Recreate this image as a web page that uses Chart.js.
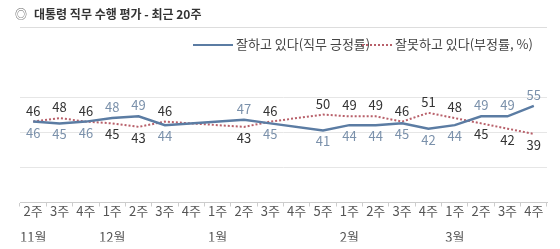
<!DOCTYPE html>
<html>
<head>
<meta charset="utf-8">
<script src="https://cdn.jsdelivr.net/npm/chart.js@4"></script>
<style>
    body { margin: 0; background: #fff; font-family: "Noto Sans CJK KR", sans-serif; }
    #wrap { position: relative; width: 560px; height: 249px; overflow: hidden; }
    #chart { position: absolute; left: 0; top: 0; }
    .title { position: absolute; left: 15px; top: 5px; font-size: 12px; font-weight: bold; color: #333; white-space: nowrap; }
    .title .mark { font-weight: normal; color: #666; margin-right: 7px; }
    .rule { position: absolute; left: 20px; top: 27px; width: 527px; height: 1px; background: #ddd; }
    .legend { position: absolute; top: 35px; font-size: 13px; color: #444; white-space: nowrap; line-height: 18px; }
    .legend .swatch { display: inline-block; vertical-align: middle; width: 40px; margin-right: 3px; }
    .legend .solid { border-top: 2px solid #5b7ca3; }
    .legend .dots { width: 30px; border-top: 2px dotted #b8606a; }
</style>
</head>
<body>
<div id="wrap">
    <canvas id="chart" width="560" height="270"></canvas>
    <div class="title"><span class="mark">◎</span>대통령 직무 수행 평가 - 최근 20주</div>
    <div class="rule"></div>
    <div class="legend" style="left:193px"><span class="swatch solid"></span>잘하고 있다(직무 긍정률)</div>
    <div class="legend" style="left:362px"><span class="swatch dots"></span>잘못하고 있다(부정률, %)</div>
</div>
<script>
// weekly survey results, gaps = no survey that week
const weeks = ['2주', '3주', '4주', '1주', '2주', '3주', '4주', '1주', '2주', '3주', '4주', '5주', '1주', '2주', '3주', '4주', '1주', '2주', '3주', '4주'];
const months = ['11월', '', '', '12월', '', '', '', '1월', '', '', '', '', '2월', '', '', '', '3월', '', '', ''];
const positive = [46, 45, 46, 48, 49, 44, null, null, 47, 45, null, 41, 44, 44, 45, 42, 44, 49, 49, 55];
const negative = [46, 48, 46, 45, 43, 46, null, null, 43, 46, null, 50, 49, 49, 46, 51, 48, 45, 42, 39];
const yTicks = [0, 20, 40, 60];

const labels = weeks.map((w, i) => months[i] ? [w, months[i]] : w);

// value labels: the higher series gets its number above the line
const valueLabels = {
    id: 'valueLabels',
    afterDatasetsDraw(chart) {
        const ctx = chart.ctx;
        const posPts = chart.getDatasetMeta(0).data;
        const negPts = chart.getDatasetMeta(1).data;
        ctx.save();
        ctx.font = '13px "Noto Sans CJK KR", sans-serif';
        ctx.textAlign = 'center';
        ctx.textBaseline = 'middle';
        for (let i = 0; i < positive.length; i++) {
            if (positive[i] == null || negative[i] == null) continue;
            const posUp = positive[i] > negative[i];
            ctx.fillStyle = '#7b91ab';
            ctx.fillText(positive[i], posPts[i].x, posPts[i].y + (posUp ? -11 : 11));
            ctx.fillStyle = '#333';
            ctx.fillText(negative[i], negPts[i].x, negPts[i].y + (posUp ? 11 : -11));
        }
        ctx.restore();
    }
};

new Chart(document.getElementById('chart'), {
    type: 'line',
    data: {
        labels: labels,
        datasets: [{
            label: '잘하고 있다(직무 긍정률)',
            data: positive,
            borderColor: '#5b7ca3',
            borderWidth: 2.5,
            pointRadius: 0,
            spanGaps: true,
            tension: 0
        }, {
            label: '잘못하고 있다(부정률, %)',
            data: negative,
            borderColor: '#b8606a',
            borderWidth: 2,
            borderDash: [2, 2],
            pointRadius: 0,
            spanGaps: true,
            tension: 0
        }]
    },
    options: {
        responsive: false,
        animation: false,
        layout: { padding: { left: 20, right: 13, top: 97, bottom: 28.5 } },
        plugins: { legend: { display: false }, tooltip: { enabled: false } },
        scales: {
            x: {
                offset: true,
                grid: { offset: true, drawOnChartArea: false, tickLength: 4, color: '#ccc' },
                border: { color: '#ccc' },
                ticks: {
                    autoSkip: false, maxRotation: 0, padding: -8.5, color: '#555',
                    font: { family: '"Noto Sans CJK KR", sans-serif', size: 13, lineHeight: 2 }
                }
            },
            y: {
                min: yTicks[0],
                max: yTicks[yTicks.length - 1],
                afterBuildTicks: axis => { axis.ticks = yTicks.map(v => ({ value: v })); },
                ticks: { display: false },
                border: { display: false },
                grid: { color: '#e6e6e6', drawTicks: false }
            }
        }
    },
    plugins: [valueLabels]
});
</script>
</body>
</html>
